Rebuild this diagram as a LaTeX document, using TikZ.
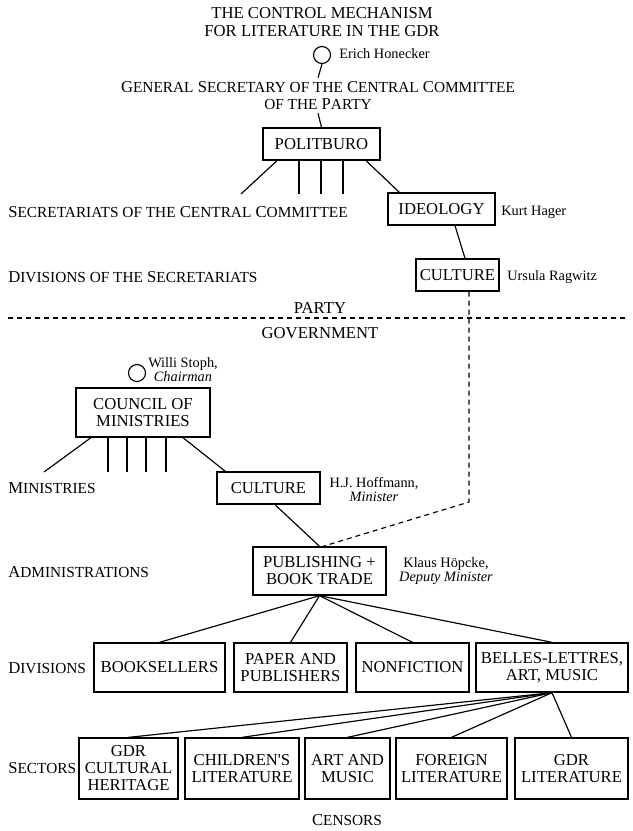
\documentclass[tikz,border=0pt]{standalone}
\usepackage{fontspec}
\setmainfont{Liberation Serif}
\usetikzlibrary{calc}
\newcommand\smc[1]{{\fontsize{9.2}{9.8}\selectfont #1}}

\begin{document}
\begin{tikzpicture}[x=0.6pt, y=-0.6pt,
    box/.style={draw, line width=0.8pt, align=center, inner xsep=1pt, inner ysep=1pt,
        font=\fontsize{10}{10.2}\selectfont},
    who/.style={font=\fontsize{8.6}{8.4}\selectfont, align=center, inner sep=0pt},
    lbl/.style={font=\fontsize{10}{10.2}\selectfont, anchor=west, inner sep=0pt},
    head/.style={draw, circle, minimum size=10.2pt, inner sep=0pt, line width=0.7pt},
    link/.style={line width=0.7pt},
    ctrl/.style={line width=0.7pt, dash pattern=on 3pt off 2.4pt}]
    \useasboundingbox (0,0) rectangle (632,831);

    % Title
    \node[font=\fontsize{10}{10.8}\selectfont, align=center] (title) at (322,22)
        {THE CONTROL MECHANISM\\FOR LITERATURE IN THE GDR};

    % General secretary
    \node[head] (honecker) at (322,55) {};
    \node[who, anchor=west] (honname) at (339,54) {Erich Honecker};
    \node[font=\fontsize{10}{10.2}\selectfont, align=center, inner sep=2pt] (gensec) at (318,95.5)
        {G\smc{ENERAL} S\smc{ECRETARY OF THE} C\smc{ENTRAL} C\smc{OMMITTEE}\\\smc{OF THE} P\smc{ARTY}};
    \draw[link] (honecker.south) -- (gensec.north);

    % Politburo
    \node[box, minimum width=70.2pt, minimum height=19.2pt] (polit) at (321.5,144) {POLITBURO};
    \draw[link] (gensec.south) -- (polit.north);

    % Secretariats
    \node[lbl] (secr) at (8,212) {S\smc{ECRETARIATS OF THE} C\smc{ENTRAL} C\smc{OMMITTEE}};
    \node[box, minimum width=64.2pt, minimum height=19.2pt] (ideo) at (441.5,209) {IDEOLOGY};
    \node[who, anchor=west] (hager) at (501,212) {Kurt Hager};
    \coordinate (s0) at (241,194);
    \coordinate (s1) at (299,194);
    \coordinate (s2) at (321,194);
    \coordinate (s3) at (343,194);
    \draw[link] ($(polit.south)+(-44.5,0)$) -- (s0);
    \foreach \c in {s1,s2,s3}
        \draw[link] (polit.south -| \c) -- (\c);
    \draw[link] ($(polit.south)+(44.5,0)$) -- ($(ideo.north west)+(12,0)$);

    % Divisions of the secretariats
    \node[lbl] (divsecr) at (8,277) {D\smc{IVISIONS OF THE} S\smc{ECRETARIATS}};
    \node[box, minimum width=49.8pt, minimum height=19.2pt] (pcult) at (457.5,275) {CULTURE};
    \node[who, anchor=west] (ragwitz) at (507,277) {Ursula Ragwitz};
    \draw[link] ($(ideo.south)+(13.5,0)$) -- ($(pcult.north)+(7.5,0)$);

    % Party / government
    \node[font=\fontsize{10}{10.2}\selectfont] (party) at (320,307.5) {PARTY};
    \node[font=\fontsize{10}{10.2}\selectfont] (govt) at (320,333) {GOVERNMENT};
    \coordinate (pl) at (8,318);
    \coordinate (pr) at (626,318);
    \draw[ctrl] (pl) -- (pr);

    % Council of ministries
    \node[head] (stoph) at (137,373) {};
    \node[who] (stophname) at (183,370) {Willi Stoph,\\\textit{Chairman}};
    \node[box, minimum width=80.4pt, minimum height=29.4pt] (council) at (143,412.5)
        {COUNCIL OF\\MINISTRIES};

    % Ministries
    \node[lbl] (minis) at (8,488) {M\smc{INISTRIES}};
    \node[box, minimum width=61.8pt, minimum height=19.2pt] (gcult) at (268.5,488) {CULTURE};
    \node[who] (hoffmann) at (374,490) {H.J. Hoffmann,\\\textit{Minister}};
    \coordinate (m0) at (44,472);
    \coordinate (m1) at (108,472);
    \coordinate (m2) at (127,472);
    \coordinate (m3) at (146,472);
    \coordinate (m4) at (166,472);
    \draw[link] ($(council.south)+(-52,0)$) -- (m0);
    \foreach \c in {m1,m2,m3,m4}
        \draw[link] (council.south -| \c) -- (\c);
    \draw[link] ($(council.south)+(40,0)$) -- ($(gcult.north west)+(9,0)$);

    % Administrations
    \node[lbl] (admin) at (8,572) {A\smc{DMINISTRATIONS}};
    \node[box, minimum width=79.8pt, minimum height=28.8pt] (pub) at (319.5,571)
        {PUBLISHING +\\BOOK TRADE};
    \node[who] (hoepcke) at (446,571.5) {Klaus Höpcke,\\\textit{Deputy Minister}};
    \draw[link] ($(gcult.south)+(6.5,0)$) -- (pub.north);
    \coordinate (bend) at (469,502);
    \draw[ctrl] (pcult.south -| bend) -- (bend) -- ($(pub.north)+(3.5,0)$);

    % Divisions
    \node[lbl] (divs) at (8,668) {D\smc{IVISIONS}};
    \node[box, minimum width=78.6pt, minimum height=29.4pt] (books) at (159.5,667.5) {BOOKSELLERS};
    \node[box, minimum width=67.8pt, minimum height=29.4pt] (paper) at (290.5,667.5) {PAPER AND\\PUBLISHERS};
    \node[box, minimum width=67.8pt, minimum height=29.4pt] (nonfic) at (412.5,667.5) {NONFICTION};
    \node[box, minimum width=91.2pt, minimum height=29.4pt] (belles) at (552,667.5) {BELLES-LETTRES,\\ART, MUSIC};
    \foreach \d in {books,paper,nonfic,belles}
        \draw[link] (pub.south) -- (\d.north);

    % Sectors
    \node[lbl] (sects) at (8,768) {S\smc{ECTORS}};
    \node[box, minimum width=59.4pt, minimum height=36.6pt] (heritage) at (128.5,768.5) {GDR\\CULTURAL\\HERITAGE};
    \node[box, minimum width=68.4pt, minimum height=36.6pt] (children) at (242,768.5) {CHILDREN\textquotesingle S\\LITERATURE};
    \node[box, minimum width=51pt, minimum height=36.6pt] (artmus) at (347.5,768.5) {ART AND\\MUSIC};
    \node[box, minimum width=66.6pt, minimum height=36.6pt] (foreign) at (451.5,768.5) {FOREIGN\\LITERATURE};
    \node[box, minimum width=67.8pt, minimum height=36.6pt] (gdrlit) at (571.5,768.5) {GDR\\LITERATURE};
    \foreach \s in {heritage,children,artmus,foreign,gdrlit}
        \draw[link] (belles.south) -- (\s.north);

    % Censors
    \node[font=\fontsize{10}{10.2}\selectfont] (censors) at (347,820) {C\smc{ENSORS}};
\end{tikzpicture}
\end{document}
